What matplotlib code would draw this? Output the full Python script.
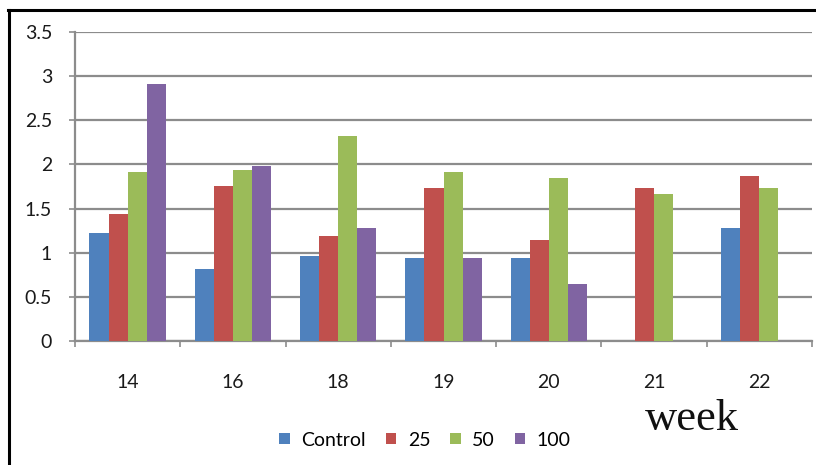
import numpy as np
import matplotlib
matplotlib.use("Agg")
import matplotlib.pyplot as plt
from matplotlib.lines import Line2D
from matplotlib.patches import Rectangle

weeks = ["14", "16", "18", "19", "20", "21", "22"]
series_names = ["Control", "25", "50", "100"]
control = [1.22, 0.82, 0.96, 0.94, 0.94, np.nan, 1.28]
dose_25 = [1.44, 1.75, 1.19, 1.73, 1.14, 1.73, 1.87]
dose_50 = [1.91, 1.94, 2.32, 1.91, 1.85, 1.66, 1.73]
dose_100 = [2.91, 1.98, 1.28, 0.94, 0.64, np.nan, np.nan]
y_ticks = [0, 0.5, 1, 1.5, 2, 2.5, 3, 3.5]
y_tick_labels = ["0", "0.5", "1", "1.5", "2", "2.5", "3", "3.5"]

colors = ["#4F81BD", "#C0504D", "#9BBB59", "#8064A2"]
grid_col = "#8C8C8C"
font = ["Lato", "DejaVu Sans"]

fig = plt.figure(figsize=(8.16, 4.65), dpi=100)
ax = fig.add_axes([75 / 816, 1 - 341 / 465, (812 - 75) / 816, (341 - 32) / 465])

x = np.arange(len(weeks))
bw = 1 / 5.5
all_series = [control, dose_25, dose_50, dose_100]
for i, (vals, c) in enumerate(zip(all_series, colors)):
    ax.bar(x + (i - 1.5) * bw, vals, width=bw, color=c, edgecolor="none", zorder=3)

ax.set_xlim(-0.5, len(weeks) - 0.5)
ax.set_ylim(0, 3.5)
ax.set_yticks(y_ticks)
ax.set_yticklabels(y_tick_labels, family=font, fontsize=14, color="#1a1a1a")
ax.set_xticks(x)
ax.set_xticklabels(weeks, family=font, fontsize=14, color="#1a1a1a")
ax.set_xticks(np.arange(len(weeks) + 1) - 0.5, minor=True)
ax.tick_params(axis="x", which="major", length=0, pad=24)
ax.tick_params(axis="x", which="minor", length=4.5, width=1.2, color=grid_col, direction="out")
ax.tick_params(axis="y", which="major", length=4.5, width=1.2, color=grid_col, pad=12)

ax.grid(axis="y", color=grid_col, linewidth=1.6, zorder=0)
ax.set_axisbelow(True)
for side in ["top", "right"]:
    ax.spines[side].set_visible(False)
for side in ["left", "bottom"]:
    ax.spines[side].set_color(grid_col)
    ax.spines[side].set_linewidth(1.6)

fig.text(645 / 816, 1 - 430 / 465, "week", family=["Liberation Serif"], fontsize=32,
         va="baseline", ha="left", color="#111111")

handles = [Rectangle((0, 0), 1, 1, facecolor=c, edgecolor="none") for c in colors]
fig.legend(handles, series_names, loc="center", bbox_to_anchor=(425 / 816, 1 - 440 / 465),
           ncol=4, frameon=False, handlelength=0.55, handleheight=0.55, handletextpad=0.6,
           columnspacing=1.0, prop={"family": font, "size": 14})

# frame lines along the left and top edges
fig.add_artist(Line2D([9 / 816, 9 / 816], [0, 1 - 10 / 465], transform=fig.transFigure,
                      color="black", linewidth=2.2))
fig.add_artist(Line2D([8 / 816, 1], [1 - 10 / 465, 1 - 10 / 465], transform=fig.transFigure,
                      color="black", linewidth=2.2))

fig.savefig("out.png", dpi=100, facecolor="white")
